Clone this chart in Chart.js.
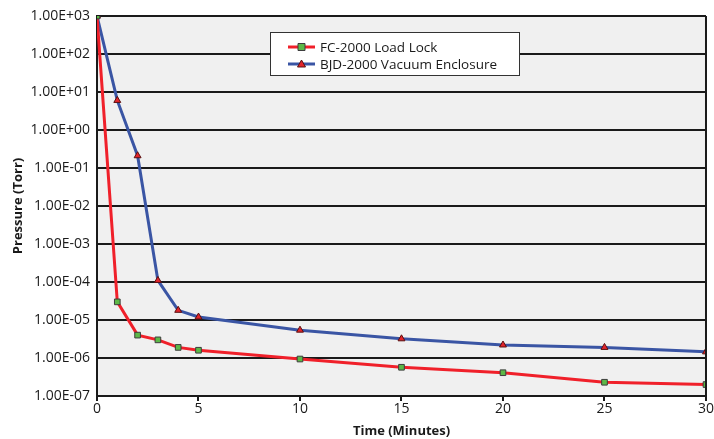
<!DOCTYPE html>
<html>
<head>
<meta charset="utf-8">
<script src="https://cdn.jsdelivr.net/npm/chart.js@4/dist/chart.umd.min.js"></script>
<style>
  html, body { margin: 0; padding: 0; background: #fff; }
  #wrap { width: 714px; height: 439px; }
</style>
</head>
<body>
<div id="wrap"><canvas id="myChart"></canvas></div>
<script>
// tiempos (minutos)
var tiempos = [0, 1, 2, 3, 4, 5, 10, 15, 20, 25, 30];
// presion (Torr) de cada equipo
var loadLock = [1000, 3.0e-5, 4.0e-6, 3.0e-6, 1.9e-6, 1.6e-6, 9.4e-7, 5.7e-7, 4.1e-7, 2.3e-7, 2.0e-7];
var vacuumEnc = [1000, 6.0, 0.21, 1.1e-4, 1.8e-5, 1.2e-5, 5.4e-6, 3.2e-6, 2.2e-6, 1.9e-6, 1.45e-6];
var xTicks = [0, 5, 10, 15, 20, 25, 30];
var yTicks = [1e-7, 1e-6, 1e-5, 1e-4, 1e-3, 1e-2, 1e-1, 1e0, 1e1, 1e2, 1e3];

var fuente = "'Open Sans', 'Noto Sans', sans-serif";

function puntos(serie) {
    return tiempos.map(function (t, i) { return { x: t, y: serie[i] }; });
}

// formato tipo Excel 1.00E+03
function formatoE(v) {
    var exp = Math.round(Math.log10(v));
    var signo = exp < 0 ? '-' : '+';
    var n = Math.abs(exp);
    return '1.00E' + signo + (n < 10 ? '0' + n : n);
}

// fondo gris y borde del area del grafico
var fondoPlugin = {
    id: 'fondo',
    beforeDraw: function (chart) {
        var a = chart.chartArea, ctx = chart.ctx;
        ctx.save();
        ctx.fillStyle = '#f0f0f0';
        ctx.fillRect(a.left, a.top, a.right - a.left, a.bottom - a.top);
        ctx.restore();
    },
    afterDatasetsDraw: function (chart) {
        var a = chart.chartArea, ctx = chart.ctx;
        ctx.save();
        ctx.strokeStyle = '#1a1a1a';
        ctx.lineWidth = 2;
        ctx.beginPath();
        ctx.moveTo(a.right, a.top);
        ctx.lineTo(a.right, a.bottom);
        ctx.stroke();
        ctx.restore();
    }
};

// leyenda con linea + marcador
var leyendaPlugin = {
    id: 'leyenda',
    afterDraw: function (chart) {
        var ctx = chart.ctx;
        var x = 270.5, y = 32.5, w = 249, h = 43;
        ctx.save();
        ctx.fillStyle = '#fff';
        ctx.fillRect(x, y, w, h);
        ctx.strokeStyle = '#333';
        ctx.lineWidth = 1;
        ctx.strokeRect(x, y, w, h);
        ctx.font = '13.5px ' + fuente;
        ctx.textBaseline = 'middle';
        chart.data.datasets.forEach(function (ds, i) {
            var yy = 47 + i * 17;
            ctx.strokeStyle = ds.borderColor;
            ctx.lineWidth = 3;
            ctx.beginPath();
            ctx.moveTo(288, yy);
            ctx.lineTo(315, yy);
            ctx.stroke();
            ctx.fillStyle = ds.pointBackgroundColor;
            ctx.strokeStyle = ds.pointBorderColor;
            ctx.lineWidth = 1;
            ctx.beginPath();
            if (ds.pointStyle === 'rect') {
                ctx.rect(298, yy - 3.5, 7, 7);
            } else {
                ctx.moveTo(301.5, yy - 4);
                ctx.lineTo(305.5, yy + 3);
                ctx.lineTo(297.5, yy + 3);
                ctx.closePath();
            }
            ctx.fill();
            ctx.stroke();
            ctx.fillStyle = '#1a1a1a';
            ctx.fillText(ds.label, 320, yy + 1);
        });
        ctx.restore();
    }
};

var ctx = document.getElementById('myChart').getContext('2d');
var myChart = new Chart(ctx, {
    type: 'line',
    data: {
        datasets: [{
            label: 'FC-2000 Load Lock',
            data: puntos(loadLock),
            borderColor: '#f0202a',
            borderWidth: 3,
            tension: 0,
            pointStyle: 'rect',
            pointRadius: 4,
            pointBackgroundColor: '#5cb847',
            pointBorderColor: '#3d3d3d',
            pointBorderWidth: 1
        }, {
            label: 'BJD-2000 Vacuum Enclosure',
            data: puntos(vacuumEnc),
            borderColor: '#3a55a4',
            borderWidth: 3,
            tension: 0,
            pointStyle: 'triangle',
            pointRadius: 4,
            pointBackgroundColor: '#e3242b',
            pointBorderColor: '#5a1010',
            pointBorderWidth: 1
        }]
    },
    options: {
        responsive: true,
        maintainAspectRatio: false,
        animation: false,
        layout: { padding: { top: 16, right: 7, left: 0, bottom: 0 } },
        plugins: {
            legend: { display: false },
            tooltip: { enabled: false }
        },
        scales: {
            x: {
                type: 'linear',
                min: 0,
                max: 30,
                afterBuildTicks: function (s) { s.ticks = xTicks.map(function (v) { return { value: v }; }); },
                afterFit: function (s) { s.height = 43; },
                grid: { drawOnChartArea: false, drawTicks: true, tickLength: 5, color: '#1a1a1a', lineWidth: 2 },
                border: { color: '#1a1a1a', width: 2 },
                ticks: { color: '#1a1a1a', font: { family: fuente, size: 14 }, padding: 0, maxRotation: 0 },
                title: { display: true, text: 'Time (Minutes)', color: '#1a1a1a', font: { family: fuente, size: 13, weight: 'bold' }, padding: { top: 0, bottom: 0 } }
            },
            y: {
                type: 'logarithmic',
                min: 1e-7,
                max: 1e3,
                afterBuildTicks: function (s) { s.ticks = yTicks.map(function (v) { return { value: v }; }); },
                afterFit: function (s) { s.width = 97; },
                grid: { color: '#1a1a1a', lineWidth: 2, drawTicks: false },
                border: { color: '#1a1a1a', width: 2 },
                ticks: {
                    color: '#1a1a1a',
                    font: { family: fuente, size: 14 },
                    padding: 7,
                    callback: function (v) { return formatoE(v); }
                },
                title: { display: true, text: 'Pressure (Torr)', color: '#1a1a1a', font: { family: fuente, size: 13, weight: 'bold' }, padding: { top: 10, bottom: 4 } }
            }
        }
    },
    plugins: [fondoPlugin, leyendaPlugin]
});
</script>
</body>
</html>
